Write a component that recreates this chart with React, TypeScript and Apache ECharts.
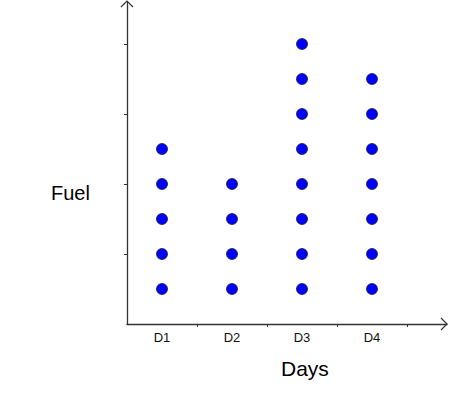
import React, { useEffect, useRef } from "react";
import * as echarts from "echarts";

const days = ["D1", "D2", "D3", "D4"];
const fuelCounts = [5, 4, 8, 7];
const yTicks = [2, 4, 6, 8];
const xTicks = [1, 2, 3, 4];

export default function App() {
  const ref = useRef<HTMLDivElement>(null);
  useEffect(() => {
    if (!ref.current) return;
    const chart = echarts.init(ref.current, null, { renderer: "svg" });
    const points: number[][] = [];
    days.forEach((_, i) => {
      for (let k = 1; k <= fuelCounts[i]; k++) points.push([i + 0.5, k]);
    });
    const axisColor = "#333";
    chart.setOption({
      animation: false,
      backgroundColor: "#fff",
      grid: { left: 127, right: 3, top: 2, bottom: 72 },
      xAxis: {
        type: "value",
        min: 0,
        max: 4.5714,
        splitLine: { show: false },
        axisLine: { show: true, lineStyle: { color: axisColor, width: 1.3 } },
        axisTick: {
          show: true,
          customValues: xTicks,
          length: 3,
          lineStyle: { color: axisColor },
        },
        axisLabel: {
          show: true,
          customValues: days.map((_, i) => i + 0.5),
          formatter: (v: number) => days[Math.round(v - 0.5)] ?? "",
          color: "#111",
          fontFamily: "Liberation Sans",
          fontSize: 13,
          margin: 7,
        },
      },
      yAxis: {
        type: "value",
        min: 0,
        max: 9.2,
        splitLine: { show: false },
        axisLine: { show: true, lineStyle: { color: axisColor, width: 1.3 } },
        axisTick: {
          show: true,
          customValues: yTicks,
          length: 3,
          lineStyle: { color: axisColor },
        },
        axisLabel: { show: false },
      },
      series: [
        {
          type: "scatter",
          data: points,
          symbol: "circle",
          symbolSize: 11,
          itemStyle: {
            color: "#0000ff",
            borderColor: "#222",
            borderWidth: 0.8,
            opacity: 1,
          },
        },
      ],
      graphic: [
        {
          type: "polyline",
          shape: { points: [[121, 7], [127, 1], [133, 7]] },
          style: { stroke: axisColor, lineWidth: 1.2, fill: null },
        },
        {
          type: "polyline",
          shape: { points: [[441, 318], [447, 324], [441, 330]] },
          style: { stroke: axisColor, lineWidth: 1.2, fill: null },
        },
        {
          type: "text",
          x: 51,
          y: 193,
          style: {
            text: "Fuel",
            fontFamily: "Liberation Sans",
            fontSize: 20,
            fill: "#000",
            verticalAlign: "middle",
          },
        },
        {
          type: "text",
          x: 281,
          y: 368,
          style: {
            text: "Days",
            fontFamily: "Liberation Sans",
            fontSize: 21,
            fill: "#000",
            verticalAlign: "middle",
          },
        },
      ],
    });
    return () => chart.dispose();
  }, []);
  return (
    <div
      ref={ref}
      style={{ position: "fixed", left: 0, top: 0, width: 450, height: 396 }}
    />
  );
}
